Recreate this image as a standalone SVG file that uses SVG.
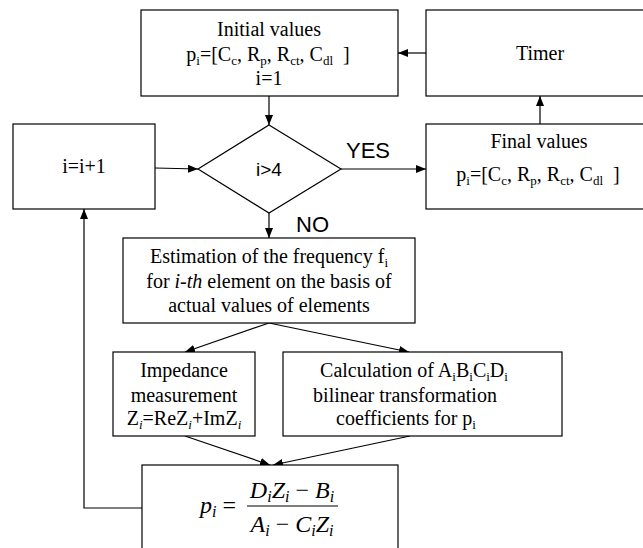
<svg xmlns="http://www.w3.org/2000/svg" width="643" height="548" viewBox="0 0 643 548">
<style>
.box{fill:#fff;stroke:#000;stroke-width:1.2}
.t{font-family:"Liberation Serif","Times New Roman",serif;font-size:20px;fill:#000;text-anchor:middle;white-space:pre}
.s{font-size:13px}
.lab{font-family:"Liberation Sans",Arial,sans-serif;font-size:22px;fill:#000}
.con{fill:none;stroke:#000;stroke-width:1.2}
.m{font-family:"Liberation Serif","Times New Roman",serif;font-style:italic;font-size:24px;fill:#000;white-space:pre}
</style>
<defs>
<marker id="ah" viewBox="0 0 10 8" refX="10" refY="4" markerWidth="10" markerHeight="8" markerUnits="userSpaceOnUse" orient="auto">
<path d="M0,0 L10,4 L0,8 Z" fill="#000"/>
</marker>
</defs>
<rect width="643" height="548" fill="#fff"/>

<g id="connectors">
<line class="con" x1="426" y1="53" x2="398" y2="53" marker-end="url(#ah)"/>
<line class="con" x1="540" y1="124" x2="540" y2="96" marker-end="url(#ah)"/>
<line class="con" x1="269" y1="96" x2="269" y2="125" marker-end="url(#ah)"/>
<line class="con" x1="155" y1="168" x2="198" y2="169" marker-end="url(#ah)"/>
<line class="con" x1="341" y1="169" x2="426" y2="169" marker-end="url(#ah)"/>
<line class="con" x1="269" y1="213" x2="269" y2="238" marker-end="url(#ah)"/>
<line class="con" x1="269" y1="323" x2="185" y2="352" marker-end="url(#ah)"/>
<line class="con" x1="269" y1="323" x2="409" y2="352" marker-end="url(#ah)"/>
<line class="con" x1="185" y1="436" x2="270" y2="465" marker-end="url(#ah)"/>
<line class="con" x1="410" y1="436" x2="273" y2="465" marker-end="url(#ah)"/>
<polyline class="con" points="142,508 84,508 84,209" marker-end="url(#ah)"/>
<text class="lab" x="346" y="158">YES</text>
<text class="lab" x="296" y="232">NO</text>
</g>

<g id="initial">
<rect class="box" x="141" y="10" width="257" height="86"/>
<text class="t" x="269" y="36">Initial values</text>
<text class="t" x="268" y="61">p<tspan class="s" dy="4">i</tspan><tspan dy="-4">=[C</tspan><tspan class="s" dy="4">c</tspan><tspan dy="-4">, R</tspan><tspan class="s" dy="4">p</tspan><tspan dy="-4">, R</tspan><tspan class="s" dy="4">ct</tspan><tspan dy="-4">, C</tspan><tspan class="s" dy="4">dl</tspan><tspan dy="-4">  ]</tspan></text>
<text class="t" x="269" y="85">i=1</text>
</g>

<g id="timer">
<rect class="box" x="426" y="10" width="226" height="86"/>
<text class="t" x="540" y="60">Timer</text>
</g>

<g id="inc">
<rect class="box" x="13" y="124" width="142" height="85"/>
<text class="t" x="84" y="173">i=i+1</text>
</g>

<g id="decision">
<polygon class="box" points="269,125 341,169 269,213 198,169"/>
<text class="lab" x="269" y="176" text-anchor="middle" style="font-size:19px">i&gt;4</text>
</g>

<g id="final">
<rect class="box" x="426" y="124" width="226" height="85"/>
<text class="t" x="539" y="148">Final values</text>
<text class="t" x="538" y="181">p<tspan class="s" dy="4">i</tspan><tspan dy="-4">=[C</tspan><tspan class="s" dy="4">c</tspan><tspan dy="-4">, R</tspan><tspan class="s" dy="4">p</tspan><tspan dy="-4">, R</tspan><tspan class="s" dy="4">ct</tspan><tspan dy="-4">, C</tspan><tspan class="s" dy="4">dl</tspan><tspan dy="-4">  ]</tspan></text>
</g>

<g id="estimation">
<rect class="box" x="123" y="238" width="292" height="85"/>
<text class="t" x="269" y="263">Estimation of the frequency f<tspan class="s" dy="4">i</tspan></text>
<text class="t" x="269" y="288">for <tspan font-style="italic">i-th</tspan> element on the basis of</text>
<text class="t" x="269" y="312">actual values of elements</text>
</g>

<g id="impedance">
<rect class="box" x="113" y="352" width="142" height="84"/>
<text class="t" x="184" y="377">Impedance</text>
<text class="t" x="184" y="402">measurement</text>
<text class="t" x="184" y="425">Z<tspan class="s" dy="4" font-style="italic">i</tspan><tspan dy="-4">=ReZ</tspan><tspan class="s" dy="4" font-style="italic">i</tspan><tspan dy="-4">+ImZ</tspan><tspan class="s" dy="4" font-style="italic">i</tspan></text>
</g>

<g id="calculation">
<rect class="box" x="283" y="352" width="279" height="84"/>
<text class="t" x="414" y="377">Calculation of A<tspan class="s" dy="4">i</tspan><tspan dy="-4">B</tspan><tspan class="s" dy="4">i</tspan><tspan dy="-4">C</tspan><tspan class="s" dy="4">i</tspan><tspan dy="-4">D</tspan><tspan class="s" dy="4">i</tspan></text>
<text class="t" x="405" y="402">bilinear transformation</text>
<text class="t" x="406" y="425">coefficients for p<tspan class="s" dy="4">i</tspan></text>
</g>

<g id="formula">
<rect class="box" x="142" y="465" width="256" height="100"/>
<text class="m" x="200" y="513">p<tspan style="font-size:16px" dy="4">i</tspan><tspan dy="-4" font-style="normal"> =</tspan></text>
<line x1="247" y1="506" x2="338" y2="506" stroke="#000" stroke-width="1.2"/>
<text class="m" x="292" y="498" text-anchor="middle">D<tspan style="font-size:16px" dy="4">i</tspan><tspan dy="-4">Z</tspan><tspan style="font-size:16px" dy="4">i</tspan><tspan dy="-4" font-style="normal"> − </tspan><tspan>B</tspan><tspan style="font-size:16px" dy="4">i</tspan></text>
<text class="m" x="292" y="532" text-anchor="middle">A<tspan style="font-size:16px" dy="4">i</tspan><tspan dy="-4" font-style="normal"> − </tspan><tspan>C</tspan><tspan style="font-size:16px" dy="4">i</tspan><tspan dy="-4">Z</tspan><tspan style="font-size:16px" dy="4">i</tspan></text>
</g>
</svg>
